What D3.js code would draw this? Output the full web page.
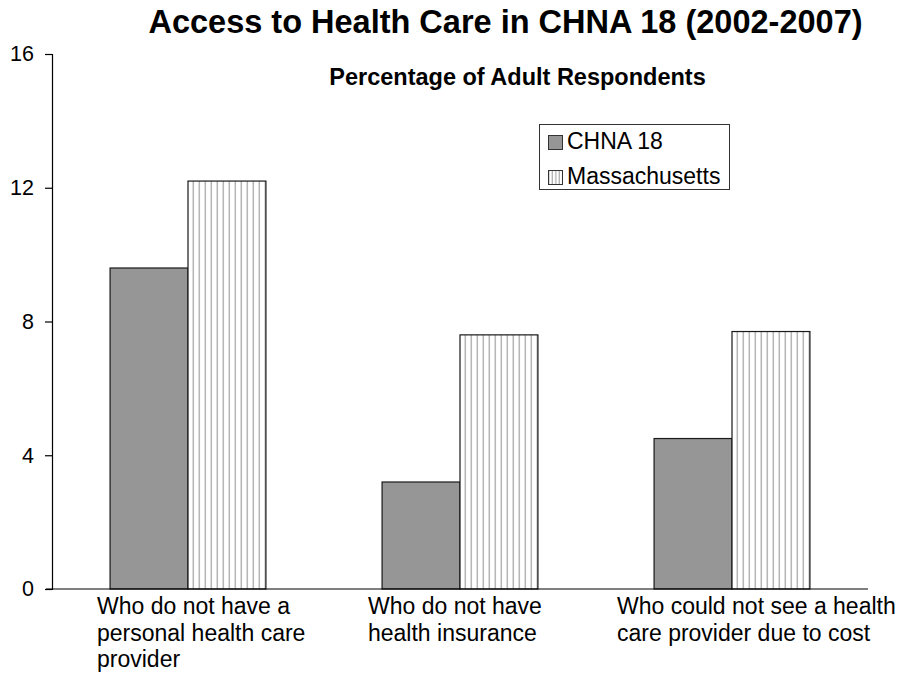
<!DOCTYPE html>
<html>
<head>
<meta charset="utf-8">
<script src="https://cdn.jsdelivr.net/npm/d3@7"></script>
<style>
  html, body { margin: 0; padding: 0; background: #fff; }
  svg { display: block; }
  text { font-family: "Liberation Sans", Arial, Helvetica, sans-serif; fill: #000; }
</style>
</head>
<body>
<svg id="chart" width="905" height="677"></svg>
<script>
// Chart data
const categories = [
  "Who do not have a personal health care provider",
  "Who do not have health insurance",
  "Who could not see a health care provider due to cost"
];
// Wrapped lines for each category label
const categoryLines = [
  ["Who do not have a", "personal health care", "provider"],
  ["Who do not have", "health insurance"],
  ["Who could not see a health", "care provider due to cost"]
];
const seriesNames = ["CHNA 18", "Massachusetts"];
const chna18 = [9.6, 3.2, 4.5];
const massachusetts = [12.2, 7.6, 7.7];
const yTicks = [0, 4, 8, 12, 16];

const titleText = "Access to Health Care in CHNA 18 (2002-2007)";
const subtitleText = "Percentage of Adult Respondents";

const svg = d3.select("#chart");

// Stripe pattern for the Massachusetts bars
const defs = svg.append("defs");
const pat = defs.append("pattern")
  .attr("id", "stripes")
  .attr("patternUnits", "userSpaceOnUse")
  .attr("width", 6).attr("height", 10);
pat.append("rect").attr("width", 6).attr("height", 10).attr("fill", "#fff");
pat.append("rect").attr("x", 4.5).attr("width", 1.6).attr("height", 10).attr("fill", "#b3b3b3");

const patL = defs.append("pattern")
  .attr("id", "stripesLegend")
  .attr("patternUnits", "userSpaceOnUse")
  .attr("width", 3.5).attr("height", 10);
patL.append("rect").attr("width", 3.5).attr("height", 10).attr("fill", "#fff");
patL.append("rect").attr("x", 2.3).attr("width", 1).attr("height", 10).attr("fill", "#999");

// Plot geometry
const plotLeft = 52, plotRight = 868, plotTop = 54, plotBottom = 589;

const x = d3.scaleBand().domain(categories).range([plotLeft, plotRight]).paddingInner(0).paddingOuter(0);
const groupWidth = x.bandwidth() * 0.573;
const xSeries = d3.scaleBand().domain(seriesNames).range([0, groupWidth]).padding(0);
const y = d3.scaleLinear().domain([0, 16]).range([plotBottom, plotTop]);

const seriesData = [
  { name: "CHNA 18", values: chna18, fill: "#969696" },
  { name: "Massachusetts", values: massachusetts, fill: "url(#stripes)" }
];

// Bars
const groups = svg.append("g").selectAll("g")
  .data(categories)
  .join("g")
  .attr("transform", d => `translate(${x(d) + (x.bandwidth() - groupWidth) / 2},0)`);

groups.selectAll("rect")
  .data((d, i) => seriesData.map(s => ({ name: s.name, value: s.values[i], fill: s.fill })))
  .join("rect")
  .attr("x", d => xSeries(d.name))
  .attr("y", d => y(d.value))
  .attr("width", xSeries.bandwidth())
  .attr("height", d => y(0) - y(d.value))
  .attr("fill", d => d.fill)
  .attr("stroke", "#1a1a1a")
  .attr("stroke-width", 1.2);

// Y axis
const yAxis = d3.axisLeft(y).tickValues(yTicks).tickSize(7).tickPadding(11).tickFormat(d3.format("d"));
const yg = svg.append("g").attr("transform", `translate(${plotLeft},0)`).call(yAxis);
yg.select(".domain").attr("stroke", "#000").attr("stroke-width", 1.2);
yg.selectAll(".tick line").attr("stroke", "#000").attr("stroke-width", 1.2);
yg.selectAll(".tick text").attr("font-size", 21.5).attr("fill", "#000")
  .style("font-family", "'Liberation Sans', Arial, sans-serif");

// X axis baseline
svg.append("line")
  .attr("x1", plotLeft - 6).attr("x2", plotRight)
  .attr("y1", y(0)).attr("y2", y(0))
  .attr("stroke", "#000").attr("stroke-width", 1.2);

// Category labels (left-aligned wrapped blocks)
const labelShift = [45, 44, 21];
categories.forEach((c, i) => {
  const t = svg.append("text")
    .attr("font-size", 23)
    .attr("x", x(c) + labelShift[i])
    .attr("y", 614);
  categoryLines[i].forEach((line, j) => {
    t.append("tspan")
      .attr("x", x(c) + labelShift[i])
      .attr("dy", j === 0 ? 0 : 26.5)
      .text(line);
  });
});

// Titles
svg.append("text")
  .attr("x", 505.5).attr("y", 33)
  .attr("text-anchor", "middle")
  .attr("font-size", 32.5).attr("font-weight", "bold")
  .text(titleText);

svg.append("text")
  .attr("x", 517.5).attr("y", 85)
  .attr("text-anchor", "middle")
  .attr("font-size", 23.5).attr("font-weight", "bold")
  .text(subtitleText);

// Legend
const legend = svg.append("g");
legend.append("rect")
  .attr("x", 539.5).attr("y", 124.5).attr("width", 190).attr("height", 65)
  .attr("fill", "#fff").attr("stroke", "#333").attr("stroke-width", 1);

const legendFills = ["#969696", "url(#stripesLegend)"];
seriesNames.forEach((name, i) => {
  const yy = 149 + i * 35;
  legend.append("rect")
    .attr("x", 548.5).attr("y", yy - 13.5).attr("width", 14).attr("height", 14)
    .attr("fill", legendFills[i]).attr("stroke", "#333").attr("stroke-width", 1);
  legend.append("text")
    .attr("x", 567).attr("y", yy)
    .attr("font-size", 23)
    .text(name);
});
</script>
</body>
</html>
